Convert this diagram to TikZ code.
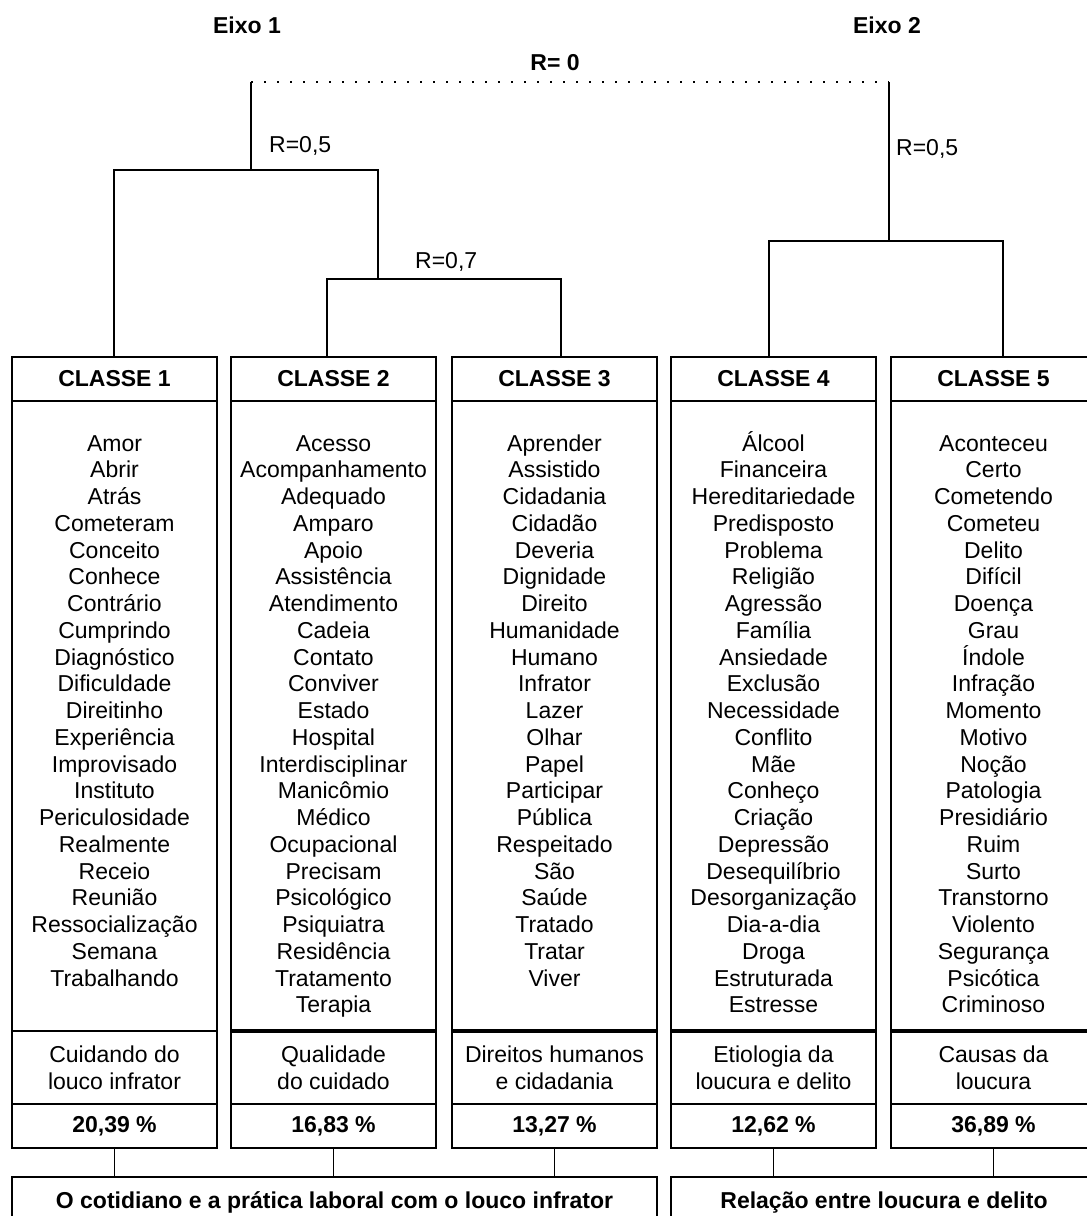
\documentclass[tikz,border=0pt]{standalone}
\usepackage{fontspec}
\setmainfont{Liberation Sans}
\usetikzlibrary{positioning}
\tikzset{
  cell/.style={draw,rectangle,line width=1.4pt,outer sep=0pt,inner sep=0pt,
    minimum width=205pt,align=center,font=\fontsize{23}{26.75}\selectfont},
  header/.style={cell,minimum height=44pt,font=\fontsize{23}{26.75}\selectfont\bfseries},
  wordbox/.style={cell,minimum height=630pt},
  themebox/.style={cell,minimum height=73pt},
  pctbox/.style={cell,minimum height=44pt,font=\fontsize{23}{26.75}\selectfont\bfseries},
  groupbox/.style={cell,minimum height=46pt,text height=16.5pt,text depth=0pt,
    font=\fontsize{23}{26.75}\selectfont\bfseries},
  word/.style={anchor=base,inner sep=0pt,font=\fontsize{23}{26.75}\selectfont},
  label/.style={anchor=base west,inner sep=0pt,font=\fontsize{23}{26.75}\selectfont},
  axis/.style={anchor=base,inner sep=0pt,font=\fontsize{23}{26.75}\selectfont\bfseries},
  branch/.style={line width=1.4pt},
  link/.style={line width=1.6pt,dash pattern=on 1.6pt off 11.4pt},
  double line/.style={line width=3.4pt}
}
\begin{document}
\begin{tikzpicture}[x=1pt,y=-1pt]
\useasboundingbox (0,0) rectangle (1087,1216);
% titles
\node[axis] (e1) at (247,33) {Eixo 1};
\node[axis] (e2) at (887,33) {Eixo 2};
\node[axis] (r0) at (555,70) {R= 0};
% classes
\node[header] (h1) at (114.5,379) {CLASSE 1};
\node[header] (h2) at (333.5,379) {CLASSE 2};
\node[header] (h3) at (554.5,379) {CLASSE 3};
\node[header] (h4) at (773.5,379) {CLASSE 4};
\node[header] (h5) at (993.5,379) {CLASSE 5};
\foreach \n in {1,...,5}{
  \node[wordbox,below=0pt of h\n] (w\n) {};
  \node[themebox,below=0pt of w\n] (d\n) {};
  \node[pctbox,below=0pt of d\n] (p\n) {};
}
\node at (d1) [cell,draw=none] {Cuidando do\\louco infrator};
\node at (d2) [cell,draw=none] {Qualidade\\do cuidado};
\node at (d3) [cell,draw=none] {Direitos humanos\\e cidadania};
\node at (d4) [cell,draw=none] {Etiologia da\\loucura e delito};
\node at (d5) [cell,draw=none] {Causas da\\loucura};
\node at (p1) [pctbox,draw=none] {20,39 \%};
\node at (p2) [pctbox,draw=none] {16,83 \%};
\node at (p3) [pctbox,draw=none] {13,27 \%};
\node at (p4) [pctbox,draw=none] {12,62 \%};
\node at (p5) [pctbox,draw=none] {36,89 \%};
\foreach \n in {2,...,5}
  \draw[double line] (d\n.north west) -- (d\n.north east);
% word lists
\foreach \w [count=\i] in {Amor,Abrir,Atrás,Cometeram,Conceito,Conhece,Contrário,Cumprindo,
  Diagnóstico,Dificuldade,Direitinho,Experiência,Improvisado,Instituto,Periculosidade,
  Realmente,Receio,Reunião,Ressocialização,Semana,Trabalhando}
  \node[word] (a\i) at (114.5,{451+26.75*(\i-1)}) {\w};
\foreach \w [count=\i] in {Acesso,Acompanhamento,Adequado,Amparo,Apoio,Assistência,
  Atendimento,Cadeia,Contato,Conviver,Estado,Hospital,Interdisciplinar,Manicômio,Médico,
  Ocupacional,Precisam,Psicológico,Psiquiatra,Residência,Tratamento,Terapia}
  \node[word] (b\i) at (333.5,{451+26.75*(\i-1)}) {\w};
\foreach \w [count=\i] in {Aprender,Assistido,Cidadania,Cidadão,Deveria,Dignidade,Direito,
  Humanidade,Humano,Infrator,Lazer,Olhar,Papel,Participar,Pública,Respeitado,São,Saúde,
  Tratado,Tratar,Viver}
  \node[word] (c\i) at (554.5,{451+26.75*(\i-1)}) {\w};
\foreach \w [count=\i] in {Álcool,Financeira,Hereditariedade,Predisposto,Problema,Religião,
  Agressão,Família,Ansiedade,Exclusão,Necessidade,Conflito,Mãe,Conheço,Criação,Depressão,
  Desequilíbrio,Desorganização,Dia-a-dia,Droga,Estruturada,Estresse}
  \node[word] (f\i) at (773.5,{451+26.75*(\i-1)}) {\w};
\foreach \w [count=\i] in {Aconteceu,Certo,Cometendo,Cometeu,Delito,Difícil,Doença,Grau,
  Índole,Infração,Momento,Motivo,Noção,Patologia,Presidiário,Ruim,Surto,Transtorno,
  Violento,Segurança,Psicótica,Criminoso}
  \node[word] (g\i) at (993.5,{451+26.75*(\i-1)}) {\w};
% groups
\node[groupbox,minimum width=645pt] (q1) at (334.5,1200) {O cotidiano e a prática laboral com o louco infrator};
\node[groupbox,minimum width=426pt] (q2) at (884,1200) {Relação entre loucura e delito};
\foreach \n/\g in {1/q1,2/q1,3/q1,4/q2,5/q2}
  \draw[branch] (p\n.south) -- (p\n.south |- \g.north);
% tree
\coordinate (t1) at (251,82);
\coordinate (t2) at (889,82);
\coordinate (k1) at (114,170);
\coordinate (k2) at (378,170);
\coordinate (k3) at (327,279);
\coordinate (k4) at (561,279);
\coordinate (k5) at (769,241);
\coordinate (k6) at (1003,241);
\draw[branch] (h1.north -| k1) -- (k1) -- (k2) -- (k2 |- k3);
\draw[branch] (h2.north -| k3) -- (k3) -- (k4) -- (h3.north -| k4);
\draw[branch] (h4.north -| k5) -- (k5) -- (k6) -- (h5.north -| k6);
\draw[branch] (t1) -- (t1 |- k1);
\draw[branch] (t2) -- (t2 |- k5);
\draw[link] (t1) -- (t2);
\node[label] (r1) at (269,152) {R=0,5};
\node[label] (r2) at (415,268) {R=0,7};
\node[label] (r3) at (896,155) {R=0,5};
\end{tikzpicture}
\end{document}
